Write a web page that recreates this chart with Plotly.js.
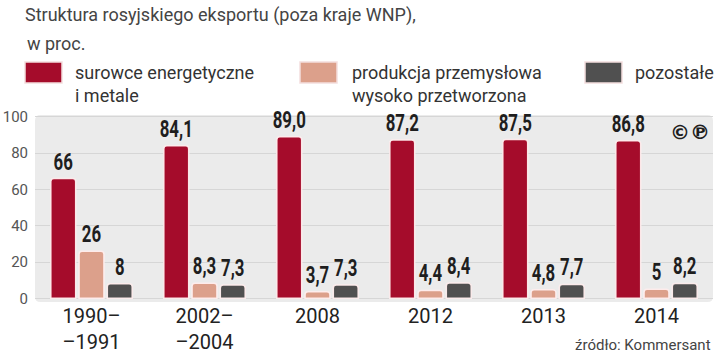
<!DOCTYPE html>
<html>
<head>
<meta charset="utf-8">
<script src="https://cdn.plot.ly/plotly-3.0.1.min.js"></script>
<style>html,body{margin:0;padding:0;background:#fff;}#chart{width:720px;height:357px;}</style>
</head>
<body>
<div id="chart"></div>
<script>
const categories = ["1990–<br>–1991", "2002–<br>–2004", "2008", "2012", "2013", "2014"];
const seriesNames = ["surowce energetyczne<br>i metale", "produkcja przemysłowa<br>wysoko przetworzona", "pozostałe"];
const energy = [66, 84.1, 89.0, 87.2, 87.5, 86.8];
const industry = [26, 8.3, 3.7, 4.4, 4.8, 5];
const other = [8, 7.3, 7.3, 8.4, 7.7, 8.2];
const energyLabels = ["66", "84,1", "89,0", "87,2", "87,5", "86,8"];
const industryLabels = ["26", "8,3", "3,7", "4,4", "4,8", "5"];
const otherLabels = ["8", "7,3", "7,3", "8,4", "7,7", "8,2"];
const yTicks = [0, 20, 40, 60, 80, 100];
const titleLine1 = "Struktura rosyjskiego eksportu (poza kraje WNP),";
const titleLine2 = "w proc.";
const sourceText = "źródło: Kommersant";

const colors = ["#a50c2b", "#dca08b", "#505050"];
const labelFont = {family: "Roboto, 'Liberation Sans', sans-serif", size: 24, color: "#1e1e1e", weight: 700};
const values = [energy, industry, other];
const labels = [energyLabels, industryLabels, otherLabels];

const data = values.map((v, i) => ({
  type: "bar",
  x: categories,
  y: v,
  name: seriesNames[i],
  text: labels[i],
  textposition: "outside",
  constraintext: "none",
  cliponaxis: false,
  textfont: labelFont,
  marker: {color: colors[i], line: {color: "rgba(255,238,238,0.95)", width: 1.5}, cornerradius: 3},
  showlegend: false,
  hoverinfo: "skip"
}));

const W = 720, H = 357, ml = 35, mr = 7, mt = 115, mb = 55;
const pw = W - ml - mr, ph = H - mt - mb;
const toPX = x => (x - ml) / pw;
const toPY = y => (H - mb - y) / ph;

const legendX = [25, 300, 585];
const legendTextX = [73, 350, 633];
const shapes = [];
const annotations = [];
const rx = 0.008, ry = 0.03;
shapes.push({
  type: "path", xref: "paper", yref: "paper", layer: "below",
  path: `M${rx},0 L${1-rx},0 Q1,0 1,${ry} L1,${1-ry} Q1,1 ${1-rx},1 L${rx},1 Q0,1 0,${1-ry} L0,${ry} Q0,0 ${rx},0 Z`,
  fillcolor: "#ebebeb", line: {width: 0}
});
seriesNames.forEach((n, i) => {
  shapes.push({
    type: "rect", xref: "paper", yref: "paper",
    x0: toPX(legendX[i]), x1: toPX(legendX[i] + 37),
    y0: toPY(83), y1: toPY(62),
    fillcolor: colors[i], line: {color: "#f3dede", width: 1.5}
  });
  annotations.push({
    xref: "paper", yref: "paper", x: toPX(legendTextX[i]), y: toPY(60),
    xanchor: "left", yanchor: "top", align: "left", showarrow: false,
    text: n, font: {family: "Roboto, 'Liberation Sans', sans-serif", size: 18, color: "#333"}
  });
});
annotations.push({
  xref: "paper", yref: "paper", x: toPX(25), y: toPY(43), xanchor: "left", yanchor: "middle",
  showarrow: false, text: titleLine2,
  font: {family: "Roboto, 'Liberation Sans', sans-serif", size: 18, color: "#444"}
});
annotations.push({
  xref: "paper", yref: "paper", x: 1, y: toPY(345), xanchor: "right", yanchor: "middle",
  showarrow: false, text: sourceText,
  font: {family: "Roboto, 'Liberation Sans', sans-serif", size: 15, color: "#444"}
});
annotations.push({
  xref: "paper", yref: "paper", x: toPX(712), y: toPY(132), xanchor: "right", yanchor: "middle",
  showarrow: false, text: "©℗",
  font: {family: "'DejaVu Sans', sans-serif", size: 20, color: "#1e1e1e", weight: 700}
});

const layout = {
  width: W, height: H,
  margin: {l: ml, r: mr, t: mt, b: mb, pad: 0},
  paper_bgcolor: "#ffffff",
  plot_bgcolor: "rgba(0,0,0,0)",
  title: {
    text: titleLine1, x: 25 / W, xanchor: "left", xref: "container",
    y: 1 - 15 / H, yanchor: "middle", yref: "container",
    font: {family: "Roboto, 'Liberation Sans', sans-serif", size: 18, color: "#444"}
  },
  barmode: "group",
  bargap: 0.25,
  bargroupgap: 0.12,
  xaxis: {
    type: "category", showgrid: false, zeroline: false, showline: false,
    ticks: "", tickfont: {family: "Roboto, 'Liberation Sans', sans-serif", size: 20, color: "#222"}
  },
  yaxis: {
    range: [-2, 101], tickvals: yTicks, ticktext: yTicks.map(String),
    showgrid: true, gridcolor: "#d6d6d6", gridwidth: 1, zeroline: false, showline: false,
    ticks: "", ticklabelstandoff: 6,
    tickfont: {family: "Roboto, 'Liberation Sans', sans-serif", size: 15, color: "#555"}
  },
  shapes: shapes,
  annotations: annotations,
  showlegend: false
};

Plotly.newPlot("chart", data, layout, {displayModeBar: false, staticPlot: true}).then(gd => {
  // condense bar value labels (narrow bold face as in the reference)
  gd.querySelectorAll("text.bartext").forEach(t => {
    const len = t.getComputedTextLength();
    t.setAttribute("textLength", (len * 0.7).toFixed(1));
    t.setAttribute("lengthAdjust", "spacingAndGlyphs");
  });
});
</script>
</body>
</html>
